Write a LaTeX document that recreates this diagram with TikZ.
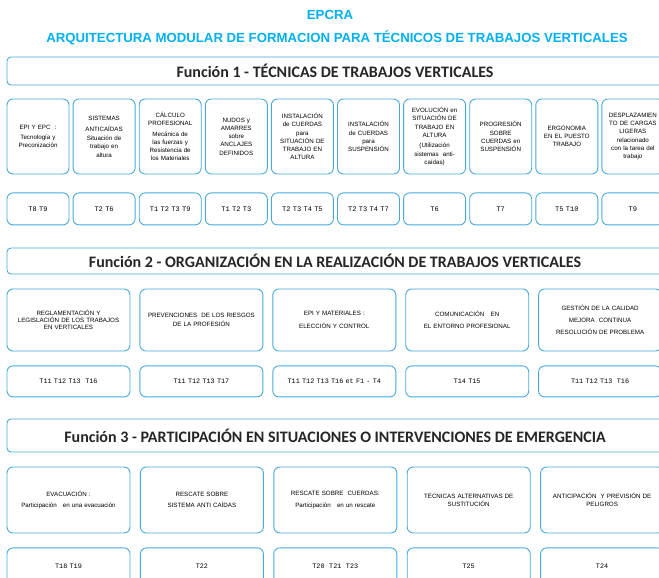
\documentclass[tikz,border=0pt]{standalone}
\usepackage{fontspec}
\setmainfont{Liberation Sans}
\setmonofont{Liberation Mono}
\newfontfamily\cabecera{Carlito}
\usepackage{xcolor}
\usepackage{tikz}
\usetikzlibrary{positioning}
\definecolor{azulcaja}{RGB}{72,170,218}
\definecolor{azultitulo}{RGB}{0,176,240}
\tikzstyle{titulo} = [font=\bfseries\fontsize{13.2}{15}\selectfont, text=azultitulo, inner sep=0pt]
\tikzstyle{funcion} = [rectangle, rounded corners=4pt, draw=azulcaja, line width=0.9pt, minimum width=656pt, minimum height=28pt, font=\cabecera\bfseries\fontsize{16}{18}\selectfont, text=black!85]
\tikzstyle{modulo} = [rectangle, rounded corners=6pt, draw=azulcaja, line width=0.9pt, minimum width=62pt, text width=58pt, minimum height=75pt, inner sep=2pt, align=center, font=\fontsize{6.2}{8.3}\selectfont]
\tikzstyle{tareas} = [modulo, minimum height=32pt, font=\ttfamily\fontsize{7}{8}\selectfont]
\tikzstyle{bloque} = [modulo, minimum width=123pt, text width=119pt, minimum height=62pt]
\tikzstyle{tbloque} = [bloque, minimum height=31pt, font=\ttfamily\fontsize{6.8}{8}\selectfont]

\begin{document}
\begin{tikzpicture}[x=1pt, y=1pt]
    \useasboundingbox (0,0) rectangle (659,-578);
    \clip (0,0) rectangle (659,-578);
    \node(epcra)[titulo] at (330,-15) {EPCRA};
    \node(arq)[titulo] at (337,-38) {ARQUITECTURA MODULAR DE FORMACION PARA TÉCNICOS DE TRABAJOS VERTICALES};
    % Funcion 1
    \node(fun1)[funcion] at (335,-71) {Función 1 - TÉCNICAS DE TRABAJOS VERTICALES};
    \node(epi)[modulo] at (38,-136.5) {EPI Y EPC\ \ :\\[2pt] Tecnología y\\ Preconización};
    \node(sist)[modulo, right=3.2pt of epi] {SISTEMAS\\[3pt] ANTICAÍDAS\\[1pt] Situación de\\ trabajo en\\ altura};
    \node(calc)[modulo, right=3.2pt of sist] {CÁLCULO\\ PROFESIONAL\\[2pt] Mecánica de\\ las fuerzas y\\ Resistencia de\\ los Materiales};
    \node(nudos)[modulo, right=3.2pt of calc] {NUDOS y\\ AMARRES\\ sobre\\ ANCLAJES\\ DEFINIDOS};
    \node(instalt)[modulo, right=3.2pt of nudos] {INSTALACIÓN\\ de CUERDAS\\ para\\ SITUACIÓN DE\\ TRABAJO EN\\ ALTURA};
    \node(instsusp)[modulo, right=3.2pt of instalt] {INSTALACIÓN\\ de CUERDAS\\ para\\ SUSPENSIÓN};
    \node(evol)[modulo, right=3.2pt of instsusp] {EVOLUCIÓN en\\ SITUACIÓN DE\\ TRABAJO EN\\ ALTURA\\[2pt] (Utilización\\ sistemas\ \ anti-\\ caídas)};
    \node(progr)[modulo, right=3.2pt of evol] {PROGRESIÓN\\ SOBRE\\ CUERDAS en\\ SUSPENSIÓN};
    \node(ergo)[modulo, right=3.2pt of progr] {ERGONOMIA\\ EN EL PUESTO\\ TRABAJO};
    \node(despl)[modulo, right=3.2pt of ergo] {DESPLAZAMIEN\\ TO DE CARGAS\\ LIGERAS\\ relacionado\\ con la tarea del\\ trabajo};
    \node(tepi)[tareas, below=18pt of epi] {T8 T9};
    \node(tsist)[tareas, below=18pt of sist] {T2 T6};
    \node(tcalc)[tareas, below=18pt of calc] {T1 T2 T3 T9};
    \node(tnudos)[tareas, below=18pt of nudos] {T1 T2 T3};
    \node(tinstalt)[tareas, below=18pt of instalt] {T2 T3 T4 T5};
    \node(tinstsusp)[tareas, below=18pt of instsusp] {T2 T3 T4 T7};
    \node(tevol)[tareas, below=18pt of evol] {T6};
    \node(tprogr)[tareas, below=18pt of progr] {T7};
    \node(tergo)[tareas, below=18pt of ergo] {T5 T10};
    \node(tdespl)[tareas, below=18pt of despl] {T9};
    % Funcion 2
    \node(fun2)[funcion, minimum height=26pt] at (335,-261) {Función 2 - ORGANIZACIÓN EN LA REALIZACIÓN DE TRABAJOS VERTICALES};
    \node(regl)[bloque] at (68.5,-320) {REGLAMENTACIÓN Y\\[-1pt] LEGISLACIÓN DE LOS TRABAJOS\\[-1pt] EN VERTICALES};
    \node(prev)[bloque, right=9pt of regl] {PREVENCIONES\ \ DE LOS RIESGOS\\ DE LA PROFESIÓN};
    \node(mat)[bloque, right=9pt of prev] {EPI Y MATERIALES :\\[4pt] ELECCIÓN Y CONTROL};
    \node(com)[bloque, right=9pt of mat] {COMUNICACIÓN\ \ \ EN\\[4pt] EL ENTORNO PROFESIONAL};
    \node(cal)[bloque, right=9pt of com] {GESTIÓN DE LA CALIDAD\\[4pt] MEJORA\ \ CONTINUA\\[4pt] RESOLUCIÓN DE PROBLEMA};
    \node(tregl)[tbloque, below=14pt of regl] {T11 T12 T13\ \ T16};
    \node(tprev)[tbloque, below=14pt of prev] {T11 T12 T13 T17};
    \node(tmat)[tbloque, below=14pt of mat] {T11 T12 T13 T16 et F1 - T4};
    \node(tcom)[tbloque, below=14pt of com] {T14 T15};
    \node(tcal)[tbloque, below=14pt of cal] {T11 T12 T13\ \ T16};
    % Funcion 3
    \node(fun3)[funcion, minimum height=33pt] at (335,-435.5) {Función 3 - PARTICIPACIÓN EN SITUACIONES O INTERVENCIONES DE EMERGENCIA};
    \node(evac)[bloque, minimum height=66pt] at (68.5,-500) {EVACUACIÓN :\\[3pt] Participación\ \ \ en una evacuación};
    \node(resc)[bloque, minimum height=66pt, right=9.5pt of evac] {RESCATE SOBRE\\[3pt] SISTEMA ANTI CAÍDAS};
    \node(rescc)[bloque, minimum height=66pt, right=9.5pt of resc] {RESCATE SOBRE\ \ CUERDAS:\\[3pt] Participación\ \ \ en un rescate};
    \node(tecn)[bloque, minimum height=66pt, right=9.5pt of rescc] {TÉCNICAS ALTERNATIVAS DE\\ SUSTITUCIÓN\\[4pt]};
    \node(antic)[bloque, minimum height=66pt, right=9.5pt of tecn] {ANTICIPACIÓN\ \ Y PREVISIÓN DE\\ PELIGROS\\[4pt]};
    \node(tevac)[tbloque, minimum height=36pt, below=14pt of evac] {T18 T19\\[6pt]};
    \node(tresc)[tbloque, minimum height=36pt, below=14pt of resc] {T22\\[6pt]};
    \node(trescc)[tbloque, minimum height=36pt, below=14pt of rescc] {T20\ \ T21\ \ T23\\[6pt]};
    \node(ttecn)[tbloque, minimum height=36pt, below=14pt of tecn] {T25\\[6pt]};
    \node(tantic)[tbloque, minimum height=36pt, below=14pt of antic] {T24\\[6pt]};
  \end{tikzpicture}
\end{document}
